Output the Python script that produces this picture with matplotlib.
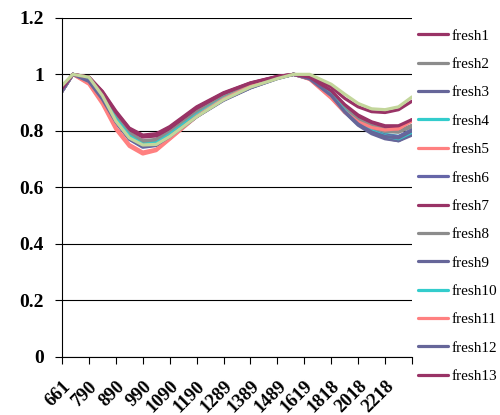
import matplotlib
matplotlib.use('Agg')
import matplotlib.pyplot as plt

plt.rcParams['font.family'] = ['Liberation Serif', 'DejaVu Serif']

# category axis (wavelength labels, one every tick)
tick_labels = ['661', '790', '890', '990', '1090', '1190', '1289',
               '1389', '1489', '1619', '1818', '2018', '2218']

# sample positions along the category axis (in tick units)
pos = [0, 0.4, 1, 1.5, 2, 2.5, 3, 3.5, 4, 5, 6, 7, 8, 8.6, 9.2,
       10, 10.5, 11, 11.5, 12, 12.5, 13]

fresh1 = [0.95, 1.0, 0.99, 0.94, 0.87, 0.81, 0.785, 0.79, 0.815, 0.885, 0.935, 0.97, 0.993, 1.0, 0.995,
          0.955, 0.915, 0.885, 0.868, 0.865, 0.875, 0.905]
fresh2 = [0.94, 1.0, 0.985, 0.93, 0.855, 0.795, 0.765, 0.77, 0.80, 0.87, 0.925, 0.962, 0.99, 1.0, 0.99,
          0.935, 0.885, 0.845, 0.82, 0.805, 0.80, 0.82]
fresh3 = [0.94, 1.0, 0.98, 0.92, 0.84, 0.78, 0.75, 0.755, 0.785, 0.855, 0.912, 0.955, 0.987, 1.0, 0.985,
          0.925, 0.87, 0.825, 0.795, 0.775, 0.765, 0.79]
fresh4 = [0.94, 1.0, 0.98, 0.925, 0.845, 0.785, 0.755, 0.76, 0.79, 0.86, 0.918, 0.958, 0.988, 1.0, 0.987,
          0.93, 0.875, 0.832, 0.805, 0.788, 0.78, 0.80]
fresh5 = [0.94, 1.0, 0.965, 0.895, 0.805, 0.745, 0.718, 0.73, 0.77, 0.85, 0.912, 0.958, 0.988, 1.0, 0.982,
          0.915, 0.865, 0.83, 0.81, 0.80, 0.805, 0.84]
fresh6 = [0.94, 1.0, 0.975, 0.91, 0.83, 0.77, 0.742, 0.748, 0.778, 0.85, 0.91, 0.953, 0.986, 1.0, 0.985,
          0.928, 0.872, 0.828, 0.80, 0.785, 0.78, 0.805]
fresh7 = [0.95, 1.0, 0.99, 0.935, 0.862, 0.805, 0.778, 0.782, 0.808, 0.88, 0.932, 0.968, 0.992, 1.0, 0.99,
          0.94, 0.89, 0.852, 0.83, 0.815, 0.815, 0.835]
fresh8 = [0.94, 1.0, 0.982, 0.925, 0.85, 0.79, 0.76, 0.765, 0.795, 0.865, 0.92, 0.96, 0.988, 1.0, 0.988,
          0.932, 0.88, 0.838, 0.812, 0.798, 0.795, 0.815]
fresh9 = [0.94, 1.0, 0.978, 0.918, 0.838, 0.778, 0.748, 0.752, 0.782, 0.852, 0.91, 0.953, 0.986, 1.0, 0.984,
          0.922, 0.866, 0.82, 0.79, 0.772, 0.765, 0.785]
fresh10 = [0.94, 1.0, 0.98, 0.92, 0.842, 0.782, 0.752, 0.757, 0.787, 0.857, 0.915, 0.956, 0.987, 1.0, 0.986,
           0.927, 0.872, 0.828, 0.8, 0.782, 0.772, 0.795]
fresh11 = [0.94, 1.0, 0.968, 0.9, 0.812, 0.752, 0.725, 0.735, 0.772, 0.852, 0.913, 0.958, 0.988, 1.0, 0.983,
           0.918, 0.868, 0.832, 0.812, 0.803, 0.808, 0.835]
fresh12 = [0.94, 1.0, 0.975, 0.912, 0.832, 0.772, 0.745, 0.75, 0.78, 0.85, 0.908, 0.952, 0.985, 1.0, 0.984,
           0.925, 0.868, 0.824, 0.796, 0.78, 0.775, 0.80]
fresh13 = [0.95, 1.0, 0.99, 0.938, 0.866, 0.808, 0.782, 0.786, 0.812, 0.882, 0.933, 0.969, 0.992, 1.0, 0.99,
           0.942, 0.893, 0.856, 0.832, 0.818, 0.818, 0.84]
fresh14 = [0.96, 1.0, 0.99, 0.925, 0.835, 0.775, 0.75, 0.752, 0.78, 0.85, 0.91, 0.955, 0.985, 1.0, 1.0,
           0.965, 0.93, 0.897, 0.878, 0.875, 0.885, 0.92]

series = [fresh1, fresh2, fresh3, fresh4, fresh5, fresh6, fresh7,
          fresh8, fresh9, fresh10, fresh11, fresh12, fresh13]
names = ['fresh%d' % (i + 1) for i in range(13)]
colors = ['#993366', '#8C8C8C', '#666699', '#33CCCC', '#FF8080', '#6666A8', '#993366',
          '#8C8C8C', '#666699', '#33CCCC', '#FF8080', '#666699', '#993366']

fig = plt.figure(figsize=(5, 4.15), dpi=100)
ax = fig.add_axes([0.124, 0.14, 0.7, 0.817])

handles = []
for s, n, c in zip(series, names, colors):
    h, = ax.plot(pos, s, color=c, lw=2.3, label=n, solid_capstyle='round')
    handles.append(h)
# extra series, not visible in the cropped legend
ax.plot(pos, fresh14, color='#C3D69B', lw=2.3, solid_capstyle='round')

ax.set_xlim(0, 13)
ax.set_ylim(0, 1.2)
ax.set_yticks([0, 0.2, 0.4, 0.6, 0.8, 1.0, 1.2])
ax.set_yticklabels(['0', '0.2', '0.4', '0.6', '0.8', '1', '1.2'],
                   fontsize=14, fontweight='bold')
ax.set_xticks(range(14))
ax.set_xticklabels(tick_labels + [''], rotation=45, ha='right',
                   rotation_mode='anchor', fontsize=13.5, fontweight='bold')
ax.tick_params(axis='x', length=5, width=0.8, pad=10)
ax.tick_params(axis='y', length=5, width=0.8, pad=8)
ax.yaxis.grid(True, color='black', lw=0.8)
ax.set_axisbelow(True)
for sp in ['top', 'right']:
    ax.spines[sp].set_visible(False)
ax.spines['left'].set_linewidth(0.8)
ax.spines['bottom'].set_linewidth(0.8)

fig.legend(handles=handles, loc='upper left', bbox_to_anchor=(0.835, 0.93),
           frameon=False, fontsize=11, handlelength=2.0, handletextpad=0.2,
           labelspacing=0.96, borderpad=0, borderaxespad=0)

fig.savefig('out.png', dpi=100)
